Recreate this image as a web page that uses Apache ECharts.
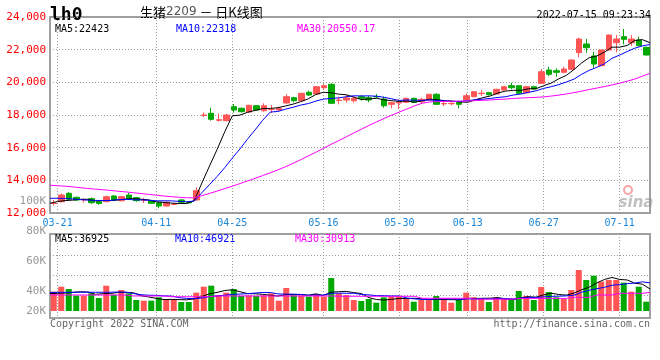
<!DOCTYPE html>
<html><head><meta charset="utf-8">
<script src="https://cdn.jsdelivr.net/npm/echarts@6/dist/echarts.min.js"></script>
<style>html,body{margin:0;padding:0;background:#fff}#c{width:660px;height:360px}</style>
</head><body><div id="c"></div>
<script>
const dates = ['03-18','03-21','03-22','03-23','03-24','03-25','03-28','03-29','03-30','03-31',
'04-01','04-06','04-07','04-08','04-11','04-12','04-13','04-14','04-15','04-18',
'04-19','04-20','04-21','04-22','04-25','04-26','04-27','04-28','04-29','05-05',
'05-06','05-09','05-10','05-11','05-12','05-13','05-16','05-17','05-18','05-19',
'05-20','05-23','05-24','05-25','05-26','05-27','05-30','05-31','06-01','06-02',
'06-06','06-07','06-08','06-09','06-10','06-13','06-14','06-15','06-16','06-17',
'06-20','06-21','06-22','06-23','06-24','06-27','06-28','06-29','06-30','07-01',
'07-04','07-05','07-06','07-07','07-08','07-11','07-12','07-13','07-14','07-15'];

const opens = [12582,12692,13206,12961,12796,12875,12692,12692,13041,12753,
13102,12937,12780,12753,12631,12429,12520,12796,12680,12796,
17969,18104,17675,17650,18508,18410,18183,18569,18263,18330,
18306,18734,19059,18875,19389,19285,19671,19879,18887,18918,
18875,19120,19059,19130,18979,18655,18734,18777,19022,18814,
18918,19267,18680,18690,18777,18918,19120,19310,19365,19285,
19530,19793,19793,19365,19732,19940,20754,20712,20614,20797,
21814,22346,21612,21018,21979,22426,22793,22426,22591,22144];
const closes = [12612,13102,12839,12796,12826,12631,12582,12998,12796,12998,
12857,12753,12800,12594,12429,12655,12550,12655,12620,13365,
18000,17736,17712,18000,18306,18202,18594,18306,18569,18348,
18410,19120,18875,19328,19224,19732,19793,18716,18918,19040,
19022,19022,18918,19110,18569,18753,18814,19022,18777,18961,
19267,18655,18700,18710,18655,19181,19426,19340,19242,19573,
19732,19671,19328,19732,19591,20650,20491,20614,20816,21367,
22652,22120,21122,21979,22897,22652,22634,22652,22242,21673];
const lows = [12459,12643,12796,12750,12631,12560,12500,12650,12760,12700,
12820,12700,12610,12560,12288,12400,12480,12620,12590,12760,
17877,17650,17589,17620,18140,18160,18150,18280,18202,18140,
18250,18700,18777,18850,19163,19260,19530,18690,18655,18753,
18753,18875,18777,19022,18447,18410,18367,18750,18750,18673,
18900,18630,18550,18600,18410,18900,19090,19163,19206,19260,
19500,19573,19300,19330,19560,19920,20387,20344,20553,20770,
21532,21814,20896,20990,21950,21838,22328,22224,22220,21650];
const highs = [12796,13194,13286,13000,12918,12950,12750,13060,13100,13040,
13224,12980,12920,12800,12680,12700,12600,12850,12720,13573,
18153,18446,18091,18061,18673,18450,18620,18600,18716,18612,
18500,19267,19120,19360,19487,19760,19879,19940,19120,19224,
19163,19224,19163,19285,19120,18814,18961,19050,19050,19059,
19300,19328,18814,18780,18875,19328,19460,19530,19420,19600,
19760,19977,19830,19780,19760,20816,20957,20858,20957,21400,
22732,22652,21875,22010,22930,22897,23264,22897,22793,22180];

const ma5 = [12600,12700,12760,12790,12835,12839,12735,12767,12767,12801,
12846,12880,12841,12800,12687,12646,12606,12577,12582,12769,
13838,14875,15887,16963,17951,17991,18163,18282,18395,18404,
18445,18551,18664,18816,18991,19256,19390,19359,19277,19240,
19098,18944,18984,19022,18928,18874,18833,18854,18787,18865,
18968,18936,18872,18859,18797,18780,18934,19062,19169,19352,
19463,19512,19509,19607,19611,19794,19958,20216,20432,20788,
21188,21514,21615,21848,22154,22154,22257,22563,22615,22423];
const ma10 = [12900,12900,12890,12860,12820,12790,12770,12760,12770,12818,
12843,12808,12804,12784,12744,12746,12743,12709,12691,12728,
13242,13741,14232,14773,15360,15915,16519,17085,17679,18178,
18218,18357,18473,18606,18698,18851,18971,19012,19047,19116,
19177,19167,19172,19150,19084,18986,18889,18919,18905,18897,
18921,18885,18863,18823,18831,18874,18935,18967,19014,19075,
19122,19223,19286,19388,19482,19629,19735,19863,20020,20200,
20491,20736,20916,21140,21471,21671,21886,22089,22232,22318];
const ma30 = [13700,13670,13640,13600,13550,13500,13460,13420,13380,13330,
13290,13240,13190,13140,13090,13040,13000,12960,12930,12930,
13060,13200,13340,13490,13640,13800,13960,14120,14290,14460,
14640,14830,15040,15260,15490,15720,15960,16200,16430,16660,
16900,17130,17360,17580,17790,17990,18180,18370,18560,18720,
18800,18820,18830,18840,18850,18860,18880,18900,18920,18950,
18980,19010,19040,19060,19080,19110,19160,19220,19290,19370,
19460,19560,19650,19740,19840,19950,20070,20200,20380,20550];

const volumes = [32200,40500,36700,25600,25600,29400,21700,42200,27200,35000,
29400,18300,17200,17200,22800,20000,20000,15000,15000,30600,
40500,42200,26600,30600,36700,25000,26100,25000,26100,29400,
17200,38300,26100,26100,23900,28400,23900,55000,29400,26600,
18300,16700,20000,13900,22800,23900,23900,20000,15500,18300,
18300,25000,18300,13900,18300,30600,23000,20000,15000,22800,
20000,18300,33300,25000,18300,40000,31600,22800,20000,35000,
68300,51700,58800,48900,51700,51700,47200,32200,40500,15500];
const volMa5 = [29000,29500,30000,31000,32100,31600,27800,28900,29200,31100,
31100,30400,25400,23400,21000,19100,19400,19000,18600,20100,
24200,28700,31000,34100,35300,32200,29000,28700,27800,26300,
24800,27200,27400,27400,26300,28600,25700,31500,32100,32700,
30600,29200,22200,19100,18300,19500,20900,20900,21200,20300,
19200,19400,19100,18800,18800,21200,20800,21200,21400,22300,
20200,19200,21900,23900,23000,27000,29600,27500,26500,29900,
35500,39600,46800,52500,55900,52600,51700,46300,44700,36925];
const volMa10 = [31000,31000,31100,31200,31300,31300,31200,31200,31300,31600,
31350,29100,27150,26300,26050,25100,24900,22200,21000,20550,
21650,24050,25000,26350,27700,28200,28850,29850,30950,30800,
28500,28100,28050,27600,26300,26700,26450,29450,29750,29500,
29600,27450,26850,25600,25500,25050,25050,21550,20150,19300,
19350,20150,20000,20000,19550,20200,20100,20150,20100,20550,
20700,20000,21550,22650,22650,23600,24400,24700,25200,26450,
31250,34600,37150,39500,42900,44050,45650,46550,48600,46921];
const volMa30 = [26700,26700,26700,26700,26700,26700,26700,26700,26700,26700,
26700,25000,25000,25000,25000,25000,23800,23800,23800,23800,
23800,23800,25000,25000,25000,25000,25000,25000,25000,25000,
25000,25000,25000,25000,25000,25000,25000,25000,24500,24500,
24500,24500,24500,24500,24500,24500,24500,24500,24500,21200,
21200,21200,21200,21200,21200,21200,19800,19800,19800,19800,
19800,19800,21000,21000,21000,21000,21000,21000,21000,22800,
22800,22800,26700,26700,26700,29500,29500,29500,29500,30913];

const labelDates = ['03-21','04-11','04-25','05-16','05-30','06-13','06-27','07-11'];
const volTickLabels = ['20K','40K','60K','80K'];
const extraVolLabel = '100K';
const mainLegend = ['MA5:22423','MA10:22318','MA30:20550.17'];
const volLegend = ['MA5:36925','MA10:46921','MA30:30913'];
const titleParts = ['生猪','2209',' － 日K线图'];
const codeText = 'lh0';
const stampText = '2022-07-15 09:23:34';
const footerLeft = 'Copyright 2022 SINA.COM';
const footerRight = 'http://finance.sina.com.cn';

const MONO = "'DejaVu Sans Mono','Liberation Mono',monospace";
const RED = '#ff5555', GREEN = '#00a800', BORDER = '#a0a0a0';
const dotLine = {color:'#9a9a9a', width:1, type:[1,2]};
const isLabelDate = (idx, val) => labelDates.indexOf(val) >= 0;

const candleData = dates.map((d,i)=>[opens[i], closes[i], lows[i], highs[i]]);
const volData = volumes.map((v,i)=>({value:v, itemStyle:{color: closes[i] >= opens[i] ? RED : GREEN}}));
const volLabelVals = [1.5, 21.5, 51.5, 81.5];

const lineS = (name, data, color, xi, yi) => ({
  name, type:'line', data, xAxisIndex:xi, yAxisIndex:yi, showSymbol:false, symbol:'none',
  lineStyle:{color, width:1}, itemStyle:{color}, z:5, silent:true
});

const chart = echarts.init(document.getElementById('c'), null, {renderer:'canvas'});
chart.setOption({
  animation:false,
  backgroundColor:'#fff',
  grid:[
    {left:50, right:10, top:17, height:196, show:true, borderColor:BORDER, borderWidth:2},
    {left:50, right:10, top:234, height:84, show:true, borderColor:BORDER, borderWidth:2},
    {left:50, right:10, top:234, height:77, show:false},
    {left:50, right:10, top:235, height:80, show:false}
  ],
  xAxis:[
    {gridIndex:0, type:'category', position:'bottom', data:dates, boundaryGap:true, show:false},
    {gridIndex:0, type:'category', position:'bottom', data:dates, boundaryGap:false,
      axisLine:{show:false}, axisTick:{show:false},
      axisLabel:{interval:isLabelDate, color:'#1c86d8', fontFamily:MONO, fontSize:10, margin:5},
      splitLine:{show:true, interval:isLabelDate, lineStyle:dotLine}},
    {gridIndex:1, type:'category', position:'bottom', data:dates, boundaryGap:false,
      axisLine:{show:false}, axisTick:{show:false}, axisLabel:{show:false},
      splitLine:{show:true, interval:isLabelDate, lineStyle:dotLine}},
    {gridIndex:2, type:'category', position:'bottom', data:dates, boundaryGap:true, show:false},
    {gridIndex:2, type:'category', position:'bottom', data:dates, boundaryGap:false, show:false},
    {gridIndex:3, type:'category', position:'bottom', data:dates, boundaryGap:false, show:false}
  ],
  yAxis:[
    {gridIndex:0, type:'value', position:'left', min:12000, max:24000, interval:2000,
      axisLine:{show:false}, axisTick:{show:false},
      axisLabel:{color:'#ff0000', fontFamily:MONO, fontSize:11, margin:4},
      splitLine:{show:true, lineStyle:dotLine}},
    {gridIndex:2, type:'value', position:'left', min:0, max:128333, show:false},
    {gridIndex:3, type:'value', position:'left', min:0, max:80, interval:20,
      axisLine:{show:false}, axisTick:{show:false}, axisLabel:{show:false},
      splitLine:{show:true, showMinLine:false, showMaxLine:false, lineStyle:dotLine}},
    {gridIndex:1, type:'value', position:'left', min:0, max:84,
      axisLine:{show:false}, axisTick:{show:false}, splitLine:{show:false},
      axisLabel:{customValues:volLabelVals, verticalAlign:'bottom',
        formatter:(v)=>{const k = volLabelVals.indexOf(v); return k>=0 ? volTickLabels[k] : '';},
        color:'#999', fontFamily:MONO, fontSize:11, margin:4}}
  ],
  series:[
    {type:'candlestick', xAxisIndex:0, yAxisIndex:0, data:candleData, barWidth:6, silent:true,
      itemStyle:{color:RED, color0:GREEN, borderColor:RED, borderColor0:GREEN, borderWidth:1}},
    lineS('MA5', ma5, '#000000', 1, 0),
    lineS('MA10', ma10, '#0000ff', 1, 0),
    lineS('MA30', ma30, '#ff00ff', 1, 0),
    {type:'bar', xAxisIndex:3, yAxisIndex:1, data:volData, barWidth:6, silent:true},
    lineS('VMA5', volMa5, '#000000', 4, 1),
    lineS('VMA10', volMa10, '#0000ff', 4, 1),
    lineS('VMA30', volMa30, '#ff00ff', 4, 1)
  ],
  graphic:[
    {type:'text', x:50, y:15, style:{text:codeText, font:'bold 18px '+MONO, fill:'#000', verticalAlign:'middle'}},
    {type:'text', x:140, y:12, style:{
      text:'{a|'+titleParts[0]+'}{b|'+titleParts[1]+'}{a|'+titleParts[2]+'}', verticalAlign:'middle',
      rich:{a:{fontFamily:'Noto Sans CJK SC', fontSize:13, fill:'#000'},
            b:{fontFamily:'DejaVu Sans', fontSize:12, fill:'#555'}}}},
    {type:'text', x:651, y:15, style:{text:stampText, font:'10px '+MONO, fill:'#000', align:'right', verticalAlign:'middle'}},
    {type:'text', x:55, y:29, style:{text:mainLegend[0], font:'10px '+MONO, fill:'#000', verticalAlign:'middle'}},
    {type:'text', x:176, y:29, style:{text:mainLegend[1], font:'10px '+MONO, fill:'#0000ff', verticalAlign:'middle'}},
    {type:'text', x:297, y:29, style:{text:mainLegend[2], font:'10px '+MONO, fill:'#ff00ff', verticalAlign:'middle'}},
    {type:'text', x:55, y:239, style:{text:volLegend[0], font:'10px '+MONO, fill:'#000', verticalAlign:'middle'}},
    {type:'text', x:175, y:239, style:{text:volLegend[1], font:'10px '+MONO, fill:'#0000ff', verticalAlign:'middle'}},
    {type:'text', x:295, y:239, style:{text:volLegend[2], font:'10px '+MONO, fill:'#ff00ff', verticalAlign:'middle'}},
    {type:'text', x:46, y:201, style:{text:extraVolLabel, font:'11px '+MONO, fill:'#999', align:'right', verticalAlign:'middle'}},
    {type:'circle', shape:{cx:628, cy:190, r:4}, style:{fill:'none', stroke:'rgba(235,90,90,0.55)', lineWidth:2}},
    {type:'text', x:636, y:203, style:{text:'sina', font:'italic bold 15px "DejaVu Sans"', fill:'rgba(140,140,140,0.55)', align:'center', verticalAlign:'middle'}},
    {type:'text', x:50, y:324, style:{text:footerLeft, font:'10px '+MONO, fill:'#666', verticalAlign:'middle'}},
    {type:'text', x:650, y:324, style:{text:footerRight, font:'10px '+MONO, fill:'#666', align:'right', verticalAlign:'middle'}}
  ]
});
</script>
</body></html>
